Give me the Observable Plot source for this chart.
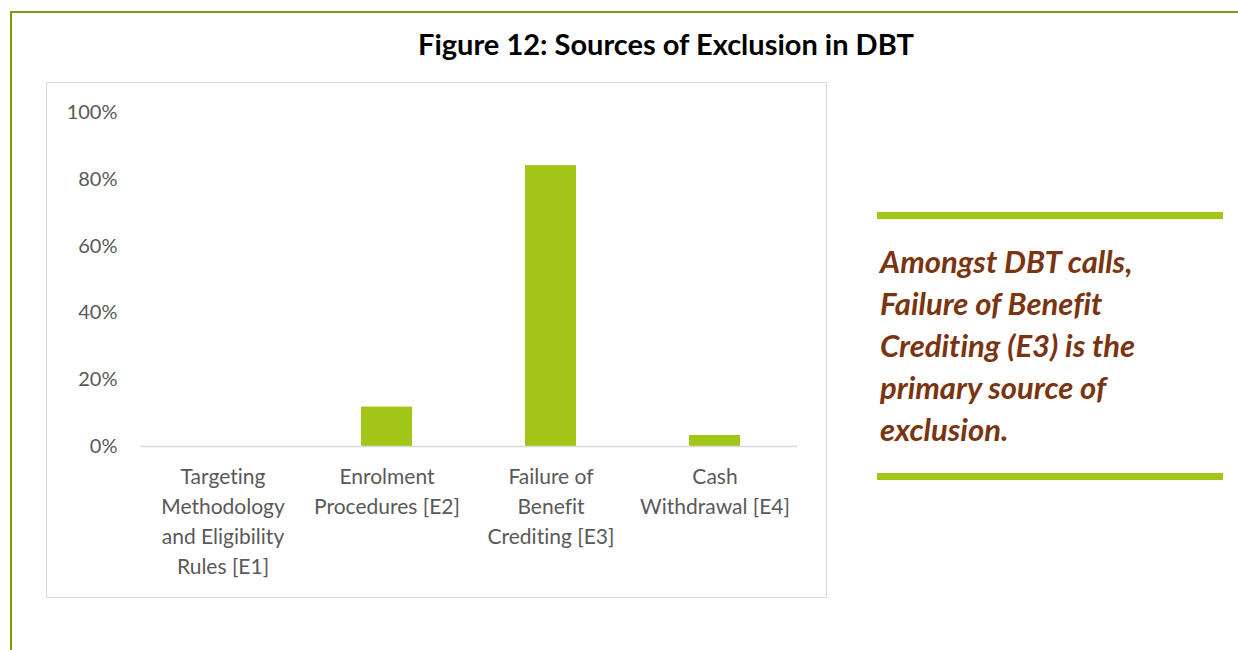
<!DOCTYPE html>
<html><head><meta charset="utf-8">
<script src="https://cdn.jsdelivr.net/npm/d3@7"></script>
<script src="https://cdn.jsdelivr.net/npm/@observablehq/plot@0.6"></script>
<style>
html,body{margin:0;padding:0;background:#fff;}
body{width:1238px;height:650px;position:relative;overflow:hidden;font-family:Lato,"Open Sans",sans-serif;font-variant-ligatures:none;}
svg, svg text{font-variant-ligatures:none;}
#frame{position:absolute;left:10px;top:11px;width:1240px;height:660px;border-left:2.5px solid #7f9a14;border-top:2.5px solid #7f9a14;}
#title{position:absolute;left:0;width:1332px;top:26px;text-align:center;font-weight:bold;font-size:29px;color:#000;}
#box{position:absolute;left:46px;top:82px;width:779px;height:514px;border:1.5px solid #d9d9d9;}
#chart{position:absolute;left:46px;top:82px;}
.bar{position:absolute;left:877px;width:346px;height:7px;background:#a2c617;}
#note{position:absolute;left:880px;top:240px;font-size:31px;line-height:42px;font-weight:bold;font-style:italic;color:#7a3410;}
</style></head>
<body>
<div id="frame"></div>
<div id="title">Figure 12: Sources of Exclusion in DBT</div>
<div id="box"></div>
<div id="chart"></div>
<div class="bar" style="top:212px"></div>
<div id="note">Amongst DBT calls,<br>Failure of Benefit<br>Crediting (E3) is the<br>primary source of<br>exclusion.</div>
<div class="bar" style="top:473px"></div>
<script>
const categories = ["Targeting\nMethodology\nand Eligibility\nRules [E1]", "Enrolment\nProcedures [E2]", "Failure of\nBenefit\nCrediting [E3]", "Cash\nWithdrawal [E4]"];
const shares = [0, 0.118, 0.841, 0.033];
const yTicks = [0, 0.2, 0.4, 0.6, 0.8, 1.0];

const data = categories.map((c, i) => ({category: c, share: shares[i]}));

const chart = Plot.plot({
  width: 781,
  height: 516,
  marginLeft: 94,
  marginRight: 30,
  marginTop: 30,
  marginBottom: 152,
  style: {fontFamily: "Lato, 'Open Sans', sans-serif", fontSize: "20px", color: "#595959", background: "transparent"},
  x: {domain: categories, paddingInner: 0.69, paddingOuter: 0.345, label: null},
  y: {domain: [0, 1], label: null},
  marks: [
    Plot.barY(data, {x: "category", y: "share", fill: "#a2c617"}),
    Plot.ruleY([0], {stroke: "#d9d9d9", strokeWidth: 1.5}),
    Plot.axisY({ticks: yTicks, tickFormat: d => Math.round(d * 100) + "%", tickSize: 0, tickPadding: 23, fontSize: 20, fill: "#595959", label: null}),
    Plot.axisX({tickSize: 0, tickPadding: 16, fontSize: 21, lineHeight: 30 / 21, fill: "#595959", label: null})
  ]
});
document.getElementById("chart").appendChild(chart);
</script>
</body></html>
